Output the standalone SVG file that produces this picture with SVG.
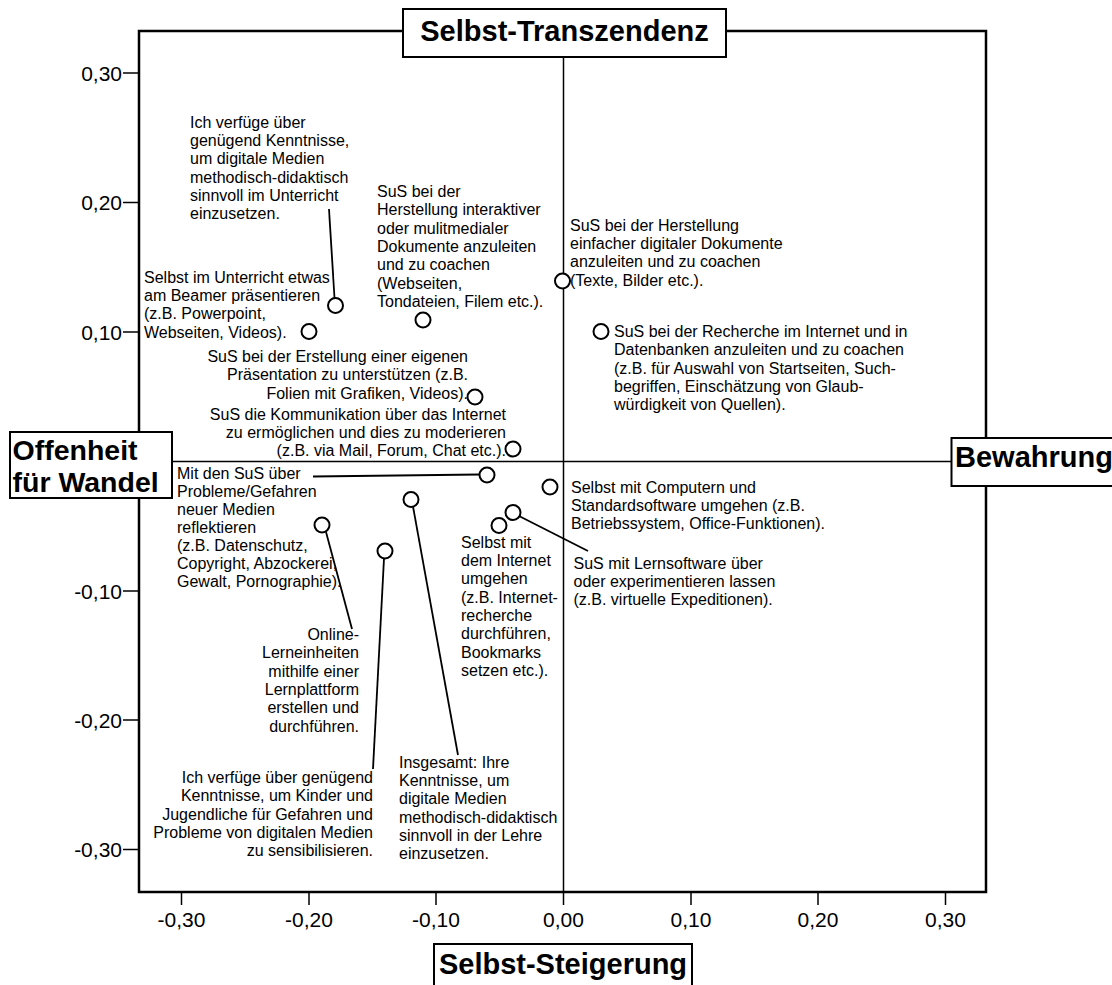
<svg xmlns="http://www.w3.org/2000/svg" width="1112" height="985" viewBox="0 0 1112 985">
<style>
.lbl{font-family:"Liberation Sans",Arial,sans-serif;font-size:16px;fill:#000}
.r{text-anchor:end}
.tick{font-family:"Liberation Sans",Arial,sans-serif;font-size:21px;fill:#000}
.tx{text-anchor:middle}
.ty{text-anchor:end}
.ttl{font-family:"Liberation Sans",Arial,sans-serif;font-size:29px;font-weight:bold;fill:#000}
.pt{fill:#fff;stroke:#000;stroke-width:2}
.box{fill:#fff;stroke:#000;stroke-width:2}
.ax{stroke:#000;stroke-width:1.5;fill:none}
.frame{stroke:#000;stroke-width:2.5;fill:none}
.tk{stroke:#000;stroke-width:1.5}
.con{stroke:#000;stroke-width:1.8;fill:none}
</style>
<rect width="1112" height="985" fill="#fff"/>
<g id="plot">
<rect class="frame" x="139" y="31" width="847" height="861"/>
<line class="ax" x1="563.5" y1="31" x2="563.5" y2="892"/>
<line class="ax" x1="139" y1="461.5" x2="986" y2="461.5"/>
</g>
<g id="y-axis">
<line class="tk" x1="123" y1="73" x2="139" y2="73"/>
<line class="tk" x1="123" y1="202.5" x2="139" y2="202.5"/>
<line class="tk" x1="123" y1="332" x2="139" y2="332"/>
<line class="tk" x1="123" y1="591" x2="139" y2="591"/>
<line class="tk" x1="123" y1="720" x2="139" y2="720"/>
<line class="tk" x1="123" y1="849.5" x2="139" y2="849.5"/>
<text class="tick ty" x="122" y="80.5">0,30</text>
<text class="tick ty" x="122" y="210">0,20</text>
<text class="tick ty" x="122" y="339.5">0,10</text>
<text class="tick ty" x="122" y="598.5">-0,10</text>
<text class="tick ty" x="122" y="727.5">-0,20</text>
<text class="tick ty" x="122" y="857">-0,30</text>
</g>
<g id="x-axis">
<line class="tk" x1="181.5" y1="892" x2="181.5" y2="905"/>
<line class="tk" x1="309" y1="892" x2="309" y2="905"/>
<line class="tk" x1="436" y1="892" x2="436" y2="905"/>
<line class="tk" x1="563.5" y1="892" x2="563.5" y2="905"/>
<line class="tk" x1="691" y1="892" x2="691" y2="905"/>
<line class="tk" x1="818" y1="892" x2="818" y2="905"/>
<line class="tk" x1="945.5" y1="892" x2="945.5" y2="905"/>
<text class="tick tx" x="181.5" y="927">-0,30</text>
<text class="tick tx" x="309" y="927">-0,20</text>
<text class="tick tx" x="436" y="927">-0,10</text>
<text class="tick tx" x="563.5" y="927">0,00</text>
<text class="tick tx" x="691" y="927">0,10</text>
<text class="tick tx" x="818" y="927">0,20</text>
<text class="tick tx" x="945.5" y="927">0,30</text>
</g>
<g id="title-top">
<rect class="box" x="403" y="9" width="323" height="48"/>
<text class="ttl" x="564.5" y="41" text-anchor="middle">Selbst-Transzendenz</text>
</g>
<g id="title-left">
<rect class="box" x="10" y="432" width="162" height="66"/>
<text class="ttl" x="12.5" y="459.5" style="font-size:28.5px">Offenheit</text>
<text class="ttl" x="12.5" y="491.5" style="font-size:28.5px">für Wandel</text>
</g>
<g id="title-right">
<rect class="box" x="951.5" y="438" width="170" height="48"/>
<text class="ttl" x="955" y="467">Bewahrung</text>
</g>
<g id="title-bottom">
<rect class="box" x="434" y="944" width="258" height="50"/>
<text class="ttl" x="563" y="974" text-anchor="middle">Selbst-Steigerung</text>
</g>
<g id="connectors">
<line class="con" x1="329" y1="209" x2="334.5" y2="298"/>
<line class="con" x1="313" y1="476.5" x2="479.5" y2="474.5"/>
<line class="con" x1="519" y1="516" x2="588" y2="551"/>
<line class="con" x1="326" y1="532" x2="352" y2="629"/>
<line class="con" x1="384" y1="558.5" x2="373" y2="769"/>
<line class="con" x1="413" y1="506.5" x2="458" y2="755"/>
</g>
<g id="n1">
<circle class="pt" cx="335.5" cy="305.5" r="7.5"/>
<text class="lbl"><tspan x="190" y="127.5">Ich verfüge über</tspan><tspan x="190" y="145.9">genügend Kenntnisse,</tspan><tspan x="190" y="164.2">um digitale Medien</tspan><tspan x="190" y="182.6">methodisch-didaktisch</tspan><tspan x="190" y="200.9">sinnvoll im Unterricht</tspan><tspan x="190" y="219.3">einzusetzen.</tspan></text>
</g>
<g id="n2">
<circle class="pt" cx="309" cy="331.5" r="7.5"/>
<text class="lbl"><tspan x="144" y="282.5">Selbst im Unterricht etwas</tspan><tspan x="144" y="300.9">am Beamer präsentieren</tspan><tspan x="144" y="319.2">(z.B. Powerpoint,</tspan><tspan x="144" y="337.6">Webseiten, Videos).</tspan></text>
</g>
<g id="n3">
<circle class="pt" cx="423" cy="320" r="7.5"/>
<text class="lbl"><tspan x="377" y="197">SuS bei der</tspan><tspan x="377" y="215.4">Herstellung interaktiver</tspan><tspan x="377" y="233.7">oder mulitmedialer</tspan><tspan x="377" y="252.1">Dokumente anzuleiten</tspan><tspan x="377" y="270.4">und zu coachen</tspan><tspan x="377" y="288.8">(Webseiten,</tspan><tspan x="377" y="307.1">Tondateien, Filem etc.).</tspan></text>
</g>
<g id="n4">
<circle class="pt" cx="562.5" cy="281" r="7.5"/>
<text class="lbl"><tspan x="570" y="230.5">SuS bei der Herstellung</tspan><tspan x="570" y="248.9">einfacher digitaler Dokumente</tspan><tspan x="570" y="267.2">anzuleiten und zu coachen</tspan><tspan x="570" y="285.6">(Texte, Bilder etc.).</tspan></text>
</g>
<g id="n5">
<circle class="pt" cx="601" cy="331.5" r="7.5"/>
<text class="lbl"><tspan x="614" y="337">SuS bei der Recherche im Internet und in</tspan><tspan x="614" y="355.4">Datenbanken anzuleiten und zu coachen</tspan><tspan x="614" y="373.7">(z.B. für Auswahl von Startseiten, Such-</tspan><tspan x="614" y="392.1">begriffen, Einschätzung von Glaub-</tspan><tspan x="614" y="410.4">würdigkeit von Quellen).</tspan></text>
</g>
<g id="n6">
<circle class="pt" cx="475" cy="397" r="7.5"/>
<text class="lbl r"><tspan x="468" y="362">SuS bei der Erstellung einer eigenen</tspan><tspan x="468" y="380.4">Präsentation zu unterstützen (z.B.</tspan><tspan x="468" y="398.7">Folien mit Grafiken, Videos).</tspan></text>
</g>
<g id="n7">
<circle class="pt" cx="513" cy="449" r="7.5"/>
<text class="lbl r"><tspan x="506" y="419.5">SuS die Kommunikation über das Internet</tspan><tspan x="506" y="437.9">zu ermöglichen und dies zu moderieren</tspan><tspan x="506" y="456.2">(z.B. via Mail, Forum, Chat etc.).</tspan></text>
</g>
<g id="n8">
<circle class="pt" cx="487" cy="475" r="7.5"/>
<text class="lbl"><tspan x="177" y="478.5">Mit den SuS über</tspan><tspan x="177" y="496.5">Probleme/Gefahren</tspan><tspan x="177" y="514.5">neuer Medien</tspan><tspan x="177" y="532.5">reflektieren</tspan><tspan x="177" y="550.5">(z.B. Datenschutz,</tspan><tspan x="177" y="568.5">Copyright, Abzockerei,</tspan><tspan x="177" y="586.5">Gewalt, Pornographie).</tspan></text>
</g>
<g id="n9">
<circle class="pt" cx="550" cy="487" r="7.5"/>
<text class="lbl"><tspan x="571" y="492.5">Selbst mit Computern und</tspan><tspan x="571" y="510.9">Standardsoftware umgehen (z.B.</tspan><tspan x="571" y="529.2">Betriebssystem, Office-Funktionen).</tspan></text>
</g>
<g id="n10">
<circle class="pt" cx="411" cy="499.5" r="7.5"/>
<text class="lbl"><tspan x="399" y="767.5">Insgesamt: Ihre</tspan><tspan x="399" y="785.9">Kenntnisse, um</tspan><tspan x="399" y="804.2">digitale Medien</tspan><tspan x="399" y="822.6">methodisch-didaktisch</tspan><tspan x="399" y="840.9">sinnvoll in der Lehre</tspan><tspan x="399" y="859.3">einzusetzen.</tspan></text>
</g>
<g id="n11">
<circle class="pt" cx="513" cy="512.5" r="7.5"/>
<text class="lbl"><tspan x="573.5" y="568.5">SuS mit Lernsoftware über</tspan><tspan x="573.5" y="586.9">oder experimentieren lassen</tspan><tspan x="573.5" y="605.2">(z.B. virtuelle Expeditionen).</tspan></text>
</g>
<g id="n12">
<circle class="pt" cx="499" cy="525.5" r="7.5"/>
<text class="lbl"><tspan x="461" y="547.5">Selbst mit</tspan><tspan x="461" y="565.9">dem Internet</tspan><tspan x="461" y="584.2">umgehen</tspan><tspan x="461" y="602.6">(z.B. Internet-</tspan><tspan x="461" y="620.9">recherche</tspan><tspan x="461" y="639.3">durchführen,</tspan><tspan x="461" y="657.6">Bookmarks</tspan><tspan x="461" y="676">setzen etc.).</tspan></text>
</g>
<g id="n13">
<circle class="pt" cx="322" cy="525" r="7.5"/>
<text class="lbl r"><tspan x="359" y="640">Online-</tspan><tspan x="359" y="658.4">Lerneinheiten</tspan><tspan x="359" y="676.7">mithilfe einer</tspan><tspan x="359" y="695.1">Lernplattform</tspan><tspan x="359" y="713.4">erstellen und</tspan><tspan x="359" y="731.8">durchführen.</tspan></text>
</g>
<g id="n14">
<circle class="pt" cx="385" cy="551" r="7.5"/>
<text class="lbl r"><tspan x="373" y="783">Ich verfüge über genügend</tspan><tspan x="373" y="801.4">Kenntnisse, um Kinder und</tspan><tspan x="373" y="819.7">Jugendliche für Gefahren und</tspan><tspan x="373" y="838.1">Probleme von digitalen Medien</tspan><tspan x="373" y="856.4">zu sensibilisieren.</tspan></text>
</g>
</svg>
